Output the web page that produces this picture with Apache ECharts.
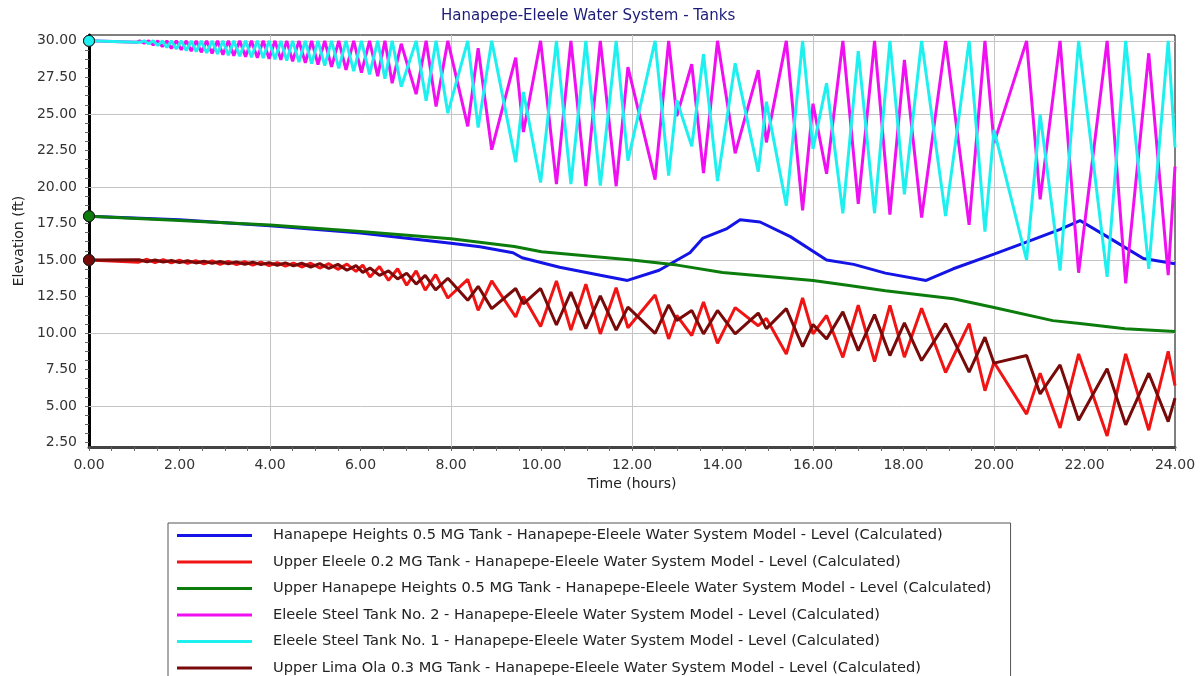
<!DOCTYPE html>
<html>
<head>
<meta charset="utf-8">
<title>Hanapepe-Eleele Water System - Tanks</title>
<script src="https://cdn.jsdelivr.net/npm/echarts@6/dist/echarts.min.js"></script>
<style>
  html, body { margin: 0; padding: 0; background: #fff; }
  #chart { width: 1202px; height: 676px; }
</style>
</head>
<body>
<div id="chart"></div>
<script>
// tick labels
const timeTicks = [0, 2, 4, 6, 8, 10, 12, 14, 16, 18, 20, 22, 24]
const elevationTicks = [2.5, 5, 7.5, 10, 12.5, 15, 17.5, 20, 22.5, 25, 27.5, 30]
const gridTimes = [4, 8, 12, 16, 20]
const gridElevations = [5, 10, 15, 20, 25, 30]

// Hanapepe Heights 0.5 MG Tank
const heightsTimes = [0, 2, 4, 6, 8, 8.64, 9.37, 9.57, 10.4, 11.3, 11.9, 12.6, 13.28, 13.57, 14.1, 14.39, 14.83, 15.5, 16.3, 16.9, 17.6, 18.5, 19.1, 20.0, 20.7, 21.46, 21.9, 22.5, 23.3, 24.0]
const heightsLevel = [18.0, 17.75, 17.35, 16.85, 16.15, 15.9, 15.5, 15.15, 14.5, 13.95, 13.6, 14.3, 15.5, 16.5, 17.15, 17.75, 17.6, 16.6, 15.0, 14.7, 14.1, 13.6, 14.4, 15.4, 16.2, 17.1, 17.7, 16.6, 15.1, 14.75]

// Upper Hanapepe Heights 0.5 MG Tank
const upperHeightsTimes = [0, 2, 4, 6, 8, 9.4, 10, 12, 13, 14, 16, 16.8, 17.6, 19.1, 20, 21.3, 21.9, 22.9, 24]
const upperHeightsLevel = [18.0, 17.7, 17.4, 16.95, 16.45, 15.92, 15.57, 15.0, 14.65, 14.15, 13.6, 13.25, 12.9, 12.35, 11.75, 10.85, 10.65, 10.3, 10.1]

// Eleele Steel Tanks No. 1 and No. 2 (same report times)
const steelTimes = [
  0, 1.05,
  1.12, 1.22, 1.32, 1.42, 1.52, 1.62, 1.72, 1.82, 1.93, 2.04, 2.15, 2.26, 2.37, 2.48, 2.60, 2.72, 2.84, 2.96, 3.08, 3.20, 3.33, 3.46,
  3.59, 3.72, 3.85, 3.98, 4.11, 4.24, 4.37, 4.50, 4.64, 4.78, 4.92, 5.06, 5.21, 5.36, 5.52, 5.68, 5.85, 6.02, 6.20, 6.38, 6.54, 6.70,
  6.90, 7.23, 7.45, 7.67, 7.93, 8.37, 8.60, 8.90, 9.43, 9.60, 9.98, 10.33, 10.65, 10.98, 11.30, 11.65, 11.91, 12.51, 12.81, 12.99,
  13.32, 13.58, 13.89, 14.28, 14.79, 14.97, 15.41, 15.77, 16.0, 16.3, 16.66, 17.0, 17.36, 17.7, 18.02, 18.4, 18.93, 19.45, 19.8,
  20.0, 20.72, 21.02, 21.46, 21.87, 22.5, 22.91, 23.42, 23.85, 24.0
]
const steelTank2Level = [
  30, 29.9,
  30, 29.85, 30, 29.72, 30, 29.6, 30, 29.48, 30, 29.38, 30, 29.3, 30, 29.22, 30, 29.14, 30, 29.06, 30, 28.98, 30, 28.92,
  30, 28.85, 30, 28.78, 30, 28.7, 30, 28.6, 30, 28.5, 30, 28.38, 30, 28.22, 30, 28.02, 30, 27.82, 30, 27.58, 30, 27.1,
  29.8, 26.35, 30, 25.5, 30, 24.15, 29.5, 22.55, 28.85, 23.76, 30, 20.2, 30, 20.05, 30, 20.05, 28.2, 20.5, 30, 24.85,
  28.4, 20.95, 30, 22.3, 28.0, 23.05, 30, 18.4, 25.7, 20.9, 30, 18.85, 30, 18.1, 28.7, 17.9, 30, 17.4, 30,
  23.0, 30, 19.15, 30, 14.13, 30, 13.4, 29.15, 13.97, 21.4
]
const steelTank1Level = [
  30, 29.9,
  29.9, 30, 29.8, 30, 29.68, 30, 29.56, 30, 29.44, 30, 29.34, 30, 29.26, 30, 29.18, 30, 29.1, 30, 29.02, 30, 28.95, 30,
  28.88, 30, 28.82, 30, 28.74, 30, 28.65, 30, 28.55, 30, 28.44, 30, 28.3, 30, 28.12, 30, 27.92, 30, 27.7, 30, 27.4, 30,
  26.86, 30, 25.9, 30, 25.05, 30, 24.06, 30, 21.7, 26.5, 20.3, 30, 20.2, 30, 20.1, 30, 21.8, 30, 20.78, 25.94,
  22.78, 29.08, 20.4, 28.46, 21.05, 25.83, 18.72, 30, 22.6, 27.1, 18.2, 29.3, 18.2, 30, 19.5, 30, 18.0, 30, 16.95,
  23.9, 15.0, 24.95, 14.27, 30, 13.85, 30, 14.4, 30, 22.7
]

// Upper Eleele 0.2 MG Tank and Upper Lima Ola 0.3 MG Tank (same report times)
const eleeleTimes = [
  0,
  1.10, 1.28, 1.46, 1.64, 1.82, 2.00, 2.18, 2.36, 2.54, 2.72, 2.90, 3.08, 3.26, 3.44, 3.62, 3.80, 3.98, 4.16, 4.34,
  4.52, 4.70, 4.90, 5.10, 5.30, 5.50, 5.70, 5.90, 6.05, 6.21, 6.42, 6.62, 6.82, 7.02, 7.23, 7.43, 7.66, 7.93,
  8.37, 8.60, 8.90, 9.43, 9.60, 9.98, 10.33, 10.65, 10.98, 11.30, 11.65, 11.91, 12.51, 12.81, 12.99,
  13.32, 13.58, 13.89, 14.28, 14.79, 14.97, 15.41, 15.77, 16.0, 16.3, 16.66, 17.0, 17.36, 17.7, 18.02, 18.4, 18.93, 19.45, 19.8,
  20.0, 20.72, 21.02, 21.46, 21.87, 22.5, 22.91, 23.42, 23.85, 24.0
]
const upperEleeleLevel = [
  15.0,
  14.85, 15.05, 14.82, 15.02, 14.8, 14.99, 14.77, 14.96, 14.74, 14.93, 14.71, 14.9, 14.68, 14.88, 14.65, 14.85, 14.62, 14.82, 14.58,
  14.79, 14.52, 14.78, 14.45, 14.75, 14.36, 14.72, 14.22, 14.65, 13.84, 14.55, 13.6, 14.4, 13.27, 14.25, 12.93, 14.0, 12.4,
  13.67, 11.55, 13.57, 11.1, 12.5, 10.45, 13.57, 10.2, 13.35, 9.94, 13.1, 10.36, 12.6, 9.6, 11.2,
  9.83, 12.13, 9.3, 11.74, 10.5, 11.0, 8.56, 12.4, 9.94, 11.2, 8.33, 11.9, 8.05, 11.9, 8.35, 11.7, 7.3, 10.64, 6.05,
  8.0, 4.45, 7.25, 3.5, 8.57, 2.95, 8.57, 3.35, 8.75, 6.4
]
const limaOlaLevel = [
  15.0,
  15.02, 14.88, 15.0, 14.86, 14.97, 14.83, 14.95, 14.8, 14.92, 14.77, 14.9, 14.74, 14.87, 14.71, 14.85, 14.68, 14.82, 14.64, 14.8,
  14.6, 14.78, 14.52, 14.75, 14.42, 14.7, 14.3, 14.62, 14.15, 14.45, 13.95, 14.25, 13.7, 14.1, 13.35, 13.95, 12.95, 13.75,
  12.24, 13.2, 11.67, 13.05, 12.0, 13.05, 10.55, 12.8, 10.3, 12.55, 10.2, 11.77, 9.98, 11.93, 10.86,
  11.55, 9.94, 11.55, 9.94, 11.37, 10.3, 11.67, 9.07, 10.59, 9.6, 11.45, 8.8, 11.26, 8.46, 10.69, 8.12, 10.64, 7.32, 9.72,
  7.94, 8.46, 5.83, 7.82, 4.03, 7.55, 3.72, 7.25, 3.94, 5.55
]

const FONT = 'DejaVu Sans'
const SUFFIX = ' - Hanapepe-Eleele Water System Model - Level (Calculated)'

// minor ticks: four steps between labelled values
const quarterTicks = (ticks) => {
  const out = []
  for (let i = 0; i < ticks.length - 1; i++) {
    const step = (ticks[i + 1] - ticks[i]) / 4
    for (let k = 0; k < 4; k++) out.push(ticks[i] + step * k)
  }
  out.push(ticks[ticks.length - 1])
  return out
}

const pairs = (times, levels) => times.map((t, i) => [t, levels[i]])

// only the first point gets a marker
const firstPointSymbol = (value, params) => (params.dataIndex === 0 ? 'circle' : 'none')

const tanks = [
  { name: 'Hanapepe Heights 0.5 MG Tank', times: heightsTimes, levels: heightsLevel, color: '#1414e6' },
  { name: 'Upper Eleele 0.2 MG Tank', times: eleeleTimes, levels: upperEleeleLevel, color: '#f01414' },
  { name: 'Upper Hanapepe Heights 0.5 MG Tank', times: upperHeightsTimes, levels: upperHeightsLevel, color: '#0c7d0c' },
  { name: 'Eleele Steel Tank No. 2', times: steelTimes, levels: steelTank2Level, color: '#f00ff0' },
  { name: 'Eleele Steel Tank No. 1', times: steelTimes, levels: steelTank1Level, color: '#1ef0f0' },
  { name: 'Upper Lima Ola 0.3 MG Tank', times: eleeleTimes, levels: limaOlaLevel, color: '#780a0a' }
]

const series = tanks.map((tank, idx) => {
  const s = {
    type: 'line',
    name: tank.name + SUFFIX,
    data: pairs(tank.times, tank.levels),
    symbol: firstPointSymbol,
    symbolSize: 11,
    showAllSymbol: true,
    lineStyle: { color: tank.color, width: 3 },
    itemStyle: { color: tank.color, borderColor: '#1a1a1a', borderWidth: 1 },
    emphasis: { disabled: true },
    animation: false
  }
  if (idx === 0) {
    // grid lines every 4 h and every 5 ft
    s.markLine = {
      silent: true,
      z: 1,
      symbol: ['none', 'none'],
      label: { show: false },
      emphasis: { disabled: true },
      animation: false,
      lineStyle: { color: '#c4c4c4', width: 1, type: 'solid' },
      data: [
        ...gridElevations.map((v) => ({ yAxis: v })),
        ...gridTimes.map((t) => ({ xAxis: t }))
      ]
    }
  }
  return s
})

const chart = echarts.init(document.getElementById('chart'))

chart.setOption({
  animation: false,
  backgroundColor: '#fff',
  title: {
    text: 'Hanapepe-Eleele Water System - Tanks',
    left: 441,
    top: 9,
    padding: 0,
    textStyle: { fontFamily: FONT, fontSize: 15, fontWeight: 'normal', color: '#1c1c78' }
  },
  grid: {
    left: 89,
    right: 27,
    top: 35,
    bottom: 229,
    show: true,
    borderColor: '#000',
    borderWidth: 1,
    containLabel: false
  },
  legend: {
    orient: 'vertical',
    left: 168,
    top: 523,
    height: 190,
    padding: [5, 19, 5, 9],
    itemGap: 11.5,
    itemWidth: 75,
    itemHeight: 3,
    icon: 'rect',
    selectedMode: false,
    borderColor: '#555',
    borderWidth: 1,
    itemStyle: { borderWidth: 0 },
    textStyle: { fontFamily: FONT, fontSize: 14.6, color: '#222', padding: [0, 0, 0, 16] }
  },
  xAxis: {
    type: 'value',
    min: 0,
    max: 24,
    name: 'Time (hours)',
    nameLocation: 'middle',
    nameGap: 30,
    nameTextStyle: { fontFamily: FONT, fontSize: 14, color: '#222' },
    axisLine: { show: true, onZero: false, lineStyle: { color: '#444', width: 3 } },
    axisTick: { show: true, customValues: quarterTicks(timeTicks), length: 4, lineStyle: { color: '#666' } },
    axisLabel: {
      customValues: timeTicks,
      formatter: (v) => v.toFixed(2),
      margin: 11,
      fontFamily: FONT,
      fontSize: 14,
      color: '#333'
    },
    splitLine: { show: false }
  },
  yAxis: {
    type: 'value',
    min: 2.2,
    max: 30.4,
    name: 'Elevation (ft)',
    nameLocation: 'middle',
    nameRotate: 90,
    nameGap: 62,
    nameTextStyle: { fontFamily: FONT, fontSize: 14, color: '#222' },
    axisLine: { show: true, onZero: false, lineStyle: { color: '#000', width: 3 } },
    axisTick: { show: true, customValues: quarterTicks(elevationTicks), length: 4, lineStyle: { color: '#666' } },
    axisLabel: {
      customValues: elevationTicks,
      formatter: (v) => v.toFixed(2),
      margin: 12,
      fontFamily: FONT,
      fontSize: 14,
      color: '#333'
    },
    splitLine: { show: false }
  },
  series
})
</script>
</body>
</html>
